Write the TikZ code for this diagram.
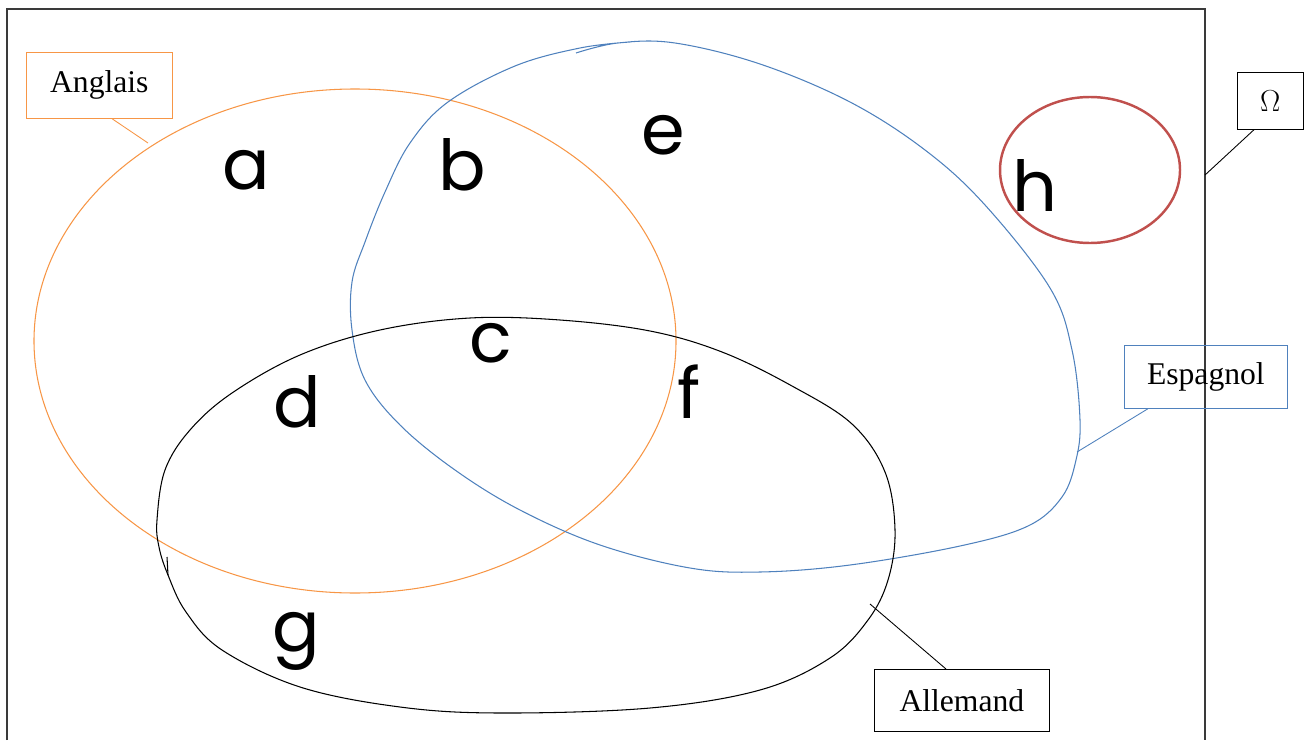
\documentclass[tikz,border=0pt]{standalone}
\usepackage{fontspec}
\setmainfont{Liberation Serif}
\newfontfamily\handfont{Poppins}
\usetikzlibrary{positioning}
\definecolor{anglOr}{HTML}{F79646}
\definecolor{espBl}{HTML}{4F81BD}
\definecolor{hRed}{HTML}{C0504D}
\definecolor{frameGr}{HTML}{3A3A3A}

\begin{document}
\begin{tikzpicture}[x=0.02cm,y=-0.02cm,
  lbl/.style={draw,rectangle,font=\fontsize{18}{20}\selectfont,inner sep=0pt,anchor=north west},
  hand/.style={font=\handfont\fontsize{40}{40}\selectfont},
  lead/.style={line width=0.5pt}]
\useasboundingbox (0,0) rectangle (1307,740);
% frame of the universe (open at the bottom)
\draw[frameGr,line width=0.7pt] (7,740) -- (7,9) -- (1205,9) -- (1205,740);
% Anglais: orange ellipse
\draw[anglOr,line width=0.6pt] (355,341) ellipse [x radius=321,y radius=252];
\node[lbl,draw=anglOr,minimum width=146*0.02cm,minimum height=66*0.02cm] (angl) at (26,52) {Anglais};
\coordinate (anglpt) at (148,143);
\draw[lead,anglOr] (angl.south west) ++(86,0) -- (anglpt);
% Espagnol: blue hand-drawn loop
\draw[espBl,line width=0.6pt] plot[smooth,tension=0.6] coordinates {
  (576,53) (618,43) (675,43) (760,64) (850,102) (925,150) (985,205)
  (1050,288) (1072,350) (1080,420) (1076,460) (1062,497) (1028,526)
  (960,546) (850,565) (760,572) (690,568) (600,545) (520,510) (455,470)
  (400,425) (365,380) (352,330) (352,282) (365,242) (385,192) (410,143)
  (448,102) (515,66) (580,48) (630,42)};
\node[lbl,draw=espBl,minimum width=163*0.02cm,minimum height=63*0.02cm] (esp) at (1124,345) {Espagnol};
\coordinate (esppt) at (1077,452);
\draw[lead,espBl] (esp.south west) ++(24,0) -- (esppt);
% Allemand: black hand-drawn loop
\draw[line width=0.6pt] plot[smooth cycle,tension=0.6] coordinates {
  (157,520) (165,470) (190,430) (232,393) (300,355) (380,330) (470,318)
  (560,320) (650,331) (722,352) (792,386) (852,424) (885,472) (895,530)
  (888,580) (868,620) (830,658) (760,690) (650,708) (500,713) (400,707)
  (300,687) (222,650) (186,612) (168,575) (159,547)};
\draw[line width=0.6pt] (167,557) -- (168,575);
\node[lbl,minimum width=175*0.02cm,minimum height=62*0.02cm] (allem) at (874,669) {Allemand};
\coordinate (allempt) at (870,604);
\draw[lead] (allem.north west) ++(72,0) -- (allempt);
% h: red circle
\draw[hRed,line width=1.4pt] (1090,170) ellipse [x radius=90,y radius=73];
% Omega label
\node[lbl,minimum width=66*0.02cm,minimum height=57*0.02cm] (omeg) at (1237,72) {$\Omega$};
\coordinate (omegpt) at (1205,175);
\draw[lead] (omeg.south west) ++(17,0) -- (omegpt);
% region letters
\node[hand] (ra) at (246,170) {a};
\node[hand] (rb) at (462,165) {b};
\node[hand] (re) at (663,135) {e};
\node[hand] (rh) at (1035,185) {h};
\node[hand] (rc) at (491,343) {c};
\node[hand] (rd) at (297,402) {d};
\node[hand] (rf) at (689,392) {f};
\node[hand] (rg) at (296,641) {g};
\end{tikzpicture}
\end{document}
